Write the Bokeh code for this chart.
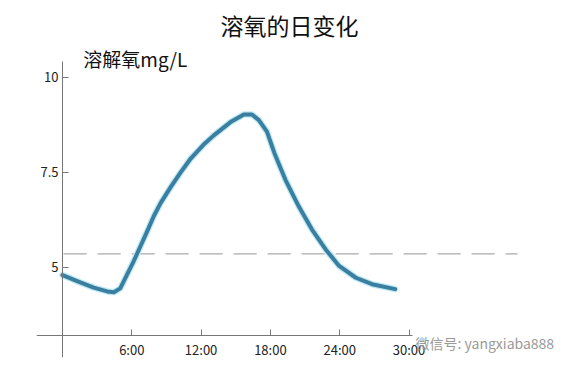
from bokeh.plotting import figure
from bokeh.models import FixedTicker, Label, Range1d
from bokeh.embed import file_html
from bokeh.resources import INLINE

# --- data ---
hours = [0, 1.27, 2.7, 3.87, 4.45, 5.0, 5.6, 6.17, 6.75, 7.33, 7.9, 8.48, 9.35, 10.2, 11.1,
         12.2, 13.1, 14.55, 15.7, 16.4, 17.0, 17.7, 18.35, 19.3, 20.45, 21.6, 22.8, 23.95,
         25.4, 26.8, 28.8]
oxygen = [4.79, 4.63, 4.46, 4.36, 4.34, 4.44, 4.81, 5.16, 5.55, 5.94, 6.34, 6.68, 7.1, 7.48, 7.86,
          8.22, 8.47, 8.82, 9.02, 9.02, 8.87, 8.57, 8.0, 7.3, 6.6, 5.99, 5.46, 5.03,
          4.72, 4.55, 4.42]
reference_level = [5.35, 5.35]
reference_hours = [0.1, 39.4]
x_ticks = [6, 12, 18, 24, 30]
x_tick_labels = ["6:00", "12:00", "18:00", "24:00", "30:00"]
y_ticks = [5, 7.5, 10]
y_tick_labels = ["5", "7.5", "10"]
title_text = "溶氧的日变化"
y_label_text = "溶解氧mg/L"
watermark_text = "微信号: yangxiaba888"

CJK = "Noto Sans CJK SC"

p = figure(width=573, height=366, output_backend="svg", toolbar_location=None,
           x_range=Range1d(-2.25, 44.24), y_range=Range1d(2.62, 10.81),
           min_border_left=36, min_border_right=0, min_border_top=44, min_border_bottom=9)
p.outline_line_color = None
p.grid.visible = False
p.background_fill_color = "white"
p.border_fill_color = "white"

# axes at fixed locations
xa = p.xaxis[0]
xa.fixed_location = 3.19
xa.bounds = (-2.25, 30.3)
xa.ticker = FixedTicker(ticks=x_ticks)
xa.major_label_overrides = {t: l for t, l in zip(x_ticks, x_tick_labels)}
xa.major_tick_in = 6
xa.major_tick_out = 0
xa.minor_tick_line_color = None
xa.axis_line_color = "#777777"
xa.major_tick_line_color = "#777777"
xa.major_label_text_font = CJK
xa.major_label_text_font_size = "13px"
xa.major_label_text_color = "#222222"
xa.major_label_standoff = 4

ya = p.yaxis[0]
ya.fixed_location = 0
ya.bounds = (2.62, 10.42)
ya.ticker = FixedTicker(ticks=y_ticks)
ya.major_label_overrides = {t: l for t, l in zip(y_ticks, y_tick_labels)}
ya.major_tick_in = 6
ya.major_tick_out = 0
ya.minor_tick_line_color = None
ya.axis_line_color = "#777777"
ya.major_tick_line_color = "#777777"
ya.major_label_text_font = CJK
ya.major_label_text_font_size = "13px"
ya.major_label_text_color = "#222222"
ya.major_label_standoff = 4

# dashed reference line
p.line(reference_hours, reference_level, line_color="#aaaaaa", line_width=1.2, line_dash="23 11")

# curve (light glow + main line)
p.line(hours, oxygen, line_color="#bfe9f4", line_width=6.5, line_join="round", line_cap="round")
p.line(hours, oxygen, line_color="#3b7fa0", line_width=4, line_join="round", line_cap="round")

# title
p.title.text = title_text
p.title.align = "left"
p.title.offset = 184
p.title.text_font = CJK
p.title.text_font_size = "23px"
p.title.text_font_style = "normal"
p.title.text_color = "#111111"

# y label near top of axis
p.add_layout(Label(x=1.8, y=10.15, text=y_label_text, text_font=CJK, text_font_size="19px",
                   text_color="#111111", text_baseline="bottom"))

# watermark
p.add_layout(Label(x=30.56, y=3.0, text=watermark_text, text_font=CJK, text_font_size="14px",
                   text_color="#9a9a9a", text_baseline="middle"))

open("out.html", "w").write(file_html(p, INLINE))
